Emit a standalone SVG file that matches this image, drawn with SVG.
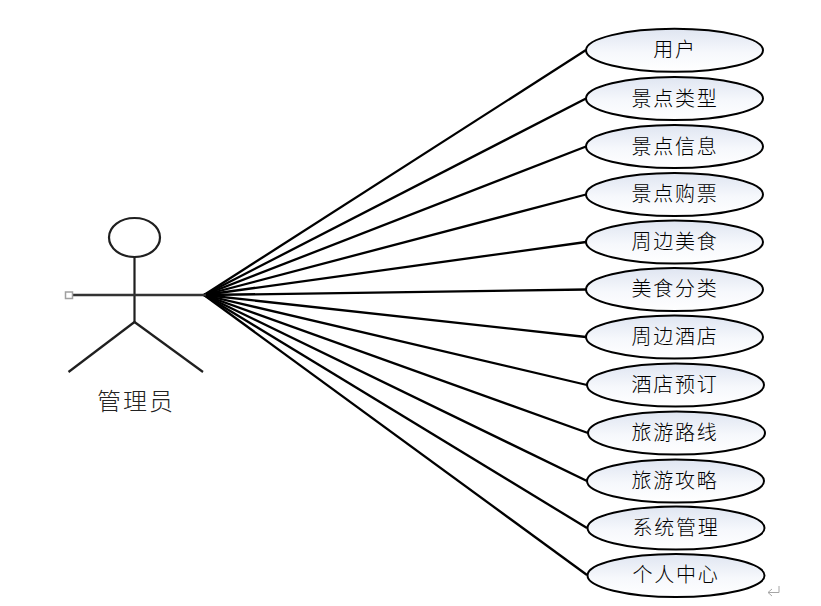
<svg xmlns="http://www.w3.org/2000/svg" width="821" height="606" viewBox="0 0 821 606">
<defs>
<linearGradient id="g" x1="0" y1="0" x2="0" y2="1"><stop offset="0" stop-color="#dfe5f1"/><stop offset="0.55" stop-color="#f6f8fc"/><stop offset="1" stop-color="#ffffff"/></linearGradient>
</defs>
<style>
.e{fill:url(#g);stroke:#000;stroke-width:2}
.t{font-family:"Noto Sans CJK SC","Noto Sans CJK JP",sans-serif;font-size:20px;font-weight:300;fill:#000;text-anchor:middle;letter-spacing:1.7px}
.c{stroke:#000;stroke-width:2.300;fill:none}
.a{stroke:#1f1f1f;stroke-width:2.200;fill:none}
</style>
<rect width="821" height="606" fill="#fff"/>
<g id="connectors">
<line class="c" x1="204" y1="295" x2="586" y2="50"/>
<line class="c" x1="204" y1="295" x2="586" y2="98.500"/>
<line class="c" x1="204" y1="295" x2="586" y2="146.500"/>
<line class="c" x1="204" y1="295" x2="586" y2="194.500"/>
<line class="c" x1="204" y1="295" x2="586" y2="242"/>
<line class="c" x1="204" y1="295" x2="586" y2="289.500"/>
<line class="c" x1="204" y1="295" x2="586" y2="337"/>
<line class="c" x1="204" y1="295" x2="587" y2="385"/>
<line class="c" x1="204" y1="295" x2="588" y2="433"/>
<line class="c" x1="204" y1="295" x2="587" y2="481"/>
<line class="c" x1="204" y1="295" x2="587" y2="528"/>
<line class="c" x1="204" y1="295" x2="587" y2="575"/>
</g>
<g id="actor">
<ellipse class="a" cx="134.500" cy="237.500" rx="25.500" ry="19.500"/>
<line class="a" x1="134.500" y1="257" x2="134.500" y2="322"/>
<line x1="72" y1="295" x2="206" y2="295" stroke="#333" stroke-width="2.600"/>
<line class="a" x1="134.500" y1="322" x2="68.500" y2="372"/>
<line class="a" x1="134.500" y1="322" x2="203" y2="372"/>
<rect x="65.500" y="292" width="7" height="6.500" fill="#fff" stroke="#a0a0a0" stroke-width="1.500"/>
<text x="136" y="410" style="font-family:'Noto Sans CJK SC','Noto Sans CJK JP',sans-serif;font-size:24px;font-weight:300;fill:#222;text-anchor:middle;letter-spacing:2px">管理员</text>
</g>
<g id="n1"><ellipse class="e" cx="674.500" cy="50.300" rx="88.500" ry="21.500"/><text class="t" x="675" y="57">用户</text></g>
<g id="n2"><ellipse class="e" cx="674.500" cy="98.500" rx="88.500" ry="21.500"/><text class="t" x="675" y="106">景点类型</text></g>
<g id="n3"><ellipse class="e" cx="674.500" cy="146.500" rx="88.500" ry="21.500"/><text class="t" x="675" y="154">景点信息</text></g>
<g id="n4"><ellipse class="e" cx="674.500" cy="194.500" rx="88.500" ry="21.500"/><text class="t" x="675" y="201">景点购票</text></g>
<g id="n5"><ellipse class="e" cx="674.500" cy="242" rx="88.500" ry="21.500"/><text class="t" x="675" y="249">周边美食</text></g>
<g id="n6"><ellipse class="e" cx="674.500" cy="289.500" rx="88.500" ry="21.500"/><text class="t" x="675" y="296">美食分类</text></g>
<g id="n7"><ellipse class="e" cx="674.500" cy="337" rx="88.500" ry="21.500"/><text class="t" x="675" y="344">周边酒店</text></g>
<g id="n8"><ellipse class="e" cx="675.500" cy="385" rx="88.500" ry="21.500"/><text class="t" x="675" y="392">酒店预订</text></g>
<g id="n9"><ellipse class="e" cx="676.500" cy="433" rx="88.500" ry="21.500"/><text class="t" x="675" y="440">旅游路线</text></g>
<g id="n10"><ellipse class="e" cx="675.500" cy="481" rx="88.500" ry="21.500"/><text class="t" x="675" y="488">旅游攻略</text></g>
<g id="n11"><ellipse class="e" cx="676" cy="528" rx="88.500" ry="21.500"/><text class="t" x="676" y="535">系统管理</text></g>
<g id="n12"><ellipse class="e" cx="676" cy="575.500" rx="88.500" ry="21.500"/><text class="t" x="676" y="582">个人中心</text></g>
<path d="M779 586V592.500H768M772 589L768 592.500L772 596" fill="none" stroke="#a6a6a6" stroke-width="1"/>
</svg>
